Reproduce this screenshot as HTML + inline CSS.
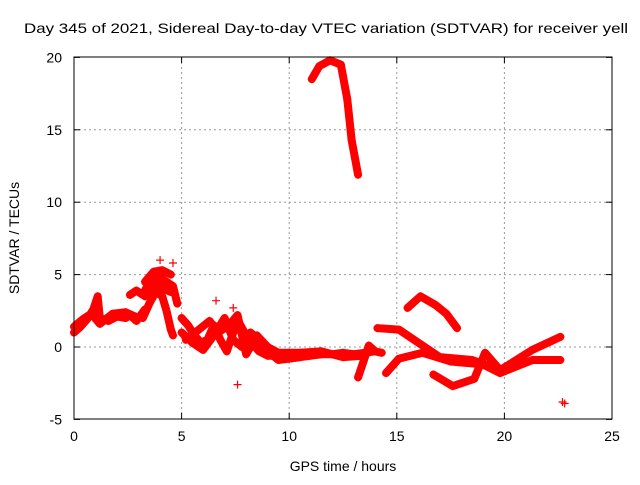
<!DOCTYPE html>
<html><head><meta charset="utf-8"><style>
body{margin:0;background:#fff}
svg{font-family:"Liberation Sans",sans-serif;font-size:14px}
</style></head><body>
<svg id="c" width="640" height="480" xmlns="http://www.w3.org/2000/svg">
<rect width="640" height="480" fill="#fff"/>
<text x="24" y="33" textLength="604" lengthAdjust="spacingAndGlyphs">Day 345 of 2021, Sidereal Day-to-day VTEC variation (SDTVAR) for receiver yell</text>
<text x="343" y="471" text-anchor="middle">GPS time / hours</text>
<text transform="translate(19,238) rotate(-90)" text-anchor="middle">SDTVAR / TECUs</text>
<g id="grid"></g><g id="ticks"></g><g id="marks"></g>
<rect x="74" y="57" width="538" height="362" fill="none" stroke="#000" stroke-width="1"/>
</svg>
<script>
const xTicks=[0,5,10,15,20,25];
const yTicks=[-5,0,5,10,15,20];
const track1=[[0,1.0],[0.3,1.4],[0.6,1.9],[0.9,2.6],[1.1,3.5],[1.2,2.0],[1.6,1.8],[2.0,2.1],[2.4,2.0],[2.6,2.2],[2.9,1.8],[3.1,2.2]];
const track1b=[[0,1.4],[0.4,1.9],[0.8,2.3],[1.2,1.6],[1.8,2.3],[2.4,2.4],[3.0,2.0],[3.3,2.6]];
const track2=[[2.6,3.6],[2.9,3.9],[3.2,3.6],[3.4,4.2],[3.7,4.6],[4.0,4.8],[4.3,4.5],[4.6,4.2],[4.8,3.0]];
const track2b=[[3.3,3.5],[3.6,4.0],[3.9,4.3],[4.2,4.0],[4.5,3.8]];
const track2c=[[3.3,4.5],[3.7,5.2],[4.1,5.3],[4.5,5.0]];
const track3=[[3.2,2.0],[3.5,3.0],[3.8,3.8],[4.1,3.5],[4.3,2.5],[4.5,1.2],[4.6,0.8]];
const track4=[[5.0,2.0],[5.3,1.5],[5.6,0.8],[5.9,0.3],[6.2,0.5],[6.5,1.5],[6.8,0.5],[7.1,-0.3],[7.4,1.0],[7.7,1.6],[8.0,0.8],[8.3,0.2],[8.6,-0.3],[9.0,-0.6],[9.5,-0.6],[10.0,-0.8],[10.5,-0.7],[11.0,-0.6],[11.5,-0.5],[12,-0.5],[12.5,-0.4],[13,-0.5],[13.5,-0.4],[14.0,-0.3],[14.3,-0.4]];
const track5=[[5.0,1.0],[5.5,0.3],[6.0,-0.2],[6.5,0.8],[7.0,2.0],[7.4,0.5],[7.8,0.0],[8.2,1.0],[8.6,0.5],[9.0,-0.3],[9.5,-0.9],[10.5,-0.7]];
const track5b=[[5.2,0.5],[5.8,1.2],[6.3,1.8],[6.7,1.0],[7.2,1.5],[7.6,2.2],[8.0,-0.5],[8.5,0.8],[9.0,0.0],[9.5,-0.4],[10.5,-0.4],[11.5,-0.3],[12.5,-0.7],[13.5,-0.6]];
const track6=[[14.1,1.3],[15.1,1.2],[16.0,0.3],[17.0,-0.7],[18.5,-0.9],[19.8,-1.6],[21.3,-0.2],[22.6,0.7]];
const track7=[[14.5,-1.8],[15.1,-0.8],[16.2,-0.4],[17.5,-1.0],[19.0,-1.2],[19.8,-1.8],[21.3,-0.9],[22.6,-0.9]];
const track8=[[13.2,-2.1],[13.7,0.1],[14.0,-0.3]];
const track9=[[16.7,-1.9],[17.6,-2.7],[18.6,-2.2],[19.1,-0.4],[19.8,-1.6]];
const track10=[[15.5,2.7],[16.1,3.5],[16.8,2.9],[17.3,2.3],[17.8,1.3]];
const track11=[[11.05,18.5],[11.4,19.4],[11.9,19.8],[12.4,19.5],[12.7,17.1],[12.9,14.3],[13.2,11.9]];
const singles=[[7.6,-2.6],[22.7,-3.8],[22.8,-3.9],[4.6,5.8],[4.0,6.0],[7.4,2.7],[6.6,3.2]];
const tracks=[track1,track1b,track2,track2b,track2c,track3,track4,track5,track5b,track6,track7,track8,track9,track10,track11];
const X=t=>74+t*538/25, Y=v=>347-v*362/25;
const NS="http://www.w3.org/2000/svg";
function mk(tag,a,p){const e=document.createElementNS(NS,tag);for(const k in a)e.setAttribute(k,a[k]);p.appendChild(e);return e;}
const g=document.getElementById('grid'),tk=document.getElementById('ticks'),m=document.getElementById('marks');
xTicks.forEach(t=>{
 if(t>0&&t<25){const l=mk('line',{x1:X(t),x2:X(t),y1:57,y2:419,stroke:'#999','stroke-dasharray':'2,3'},g);
 
 }
 const s=mk('text',{x:X(t),y:441,'text-anchor':'middle'},tk);s.textContent=t;
 
 
 mk('line',{x1:X(t),x2:X(t),y1:419,y2:413,stroke:'#000'},tk);mk('line',{x1:X(t),x2:X(t),y1:57,y2:63,stroke:'#000'},tk);
});
yTicks.forEach(v=>{
 if(v>-5&&v<20){const l=mk('line',{x1:74,x2:612,y1:Y(v),y2:Y(v),stroke:'#999','stroke-dasharray':'2,3'},g);
 
 }
 const s=mk('text',{x:62,y:Y(v)+5,'text-anchor':'end'},tk);s.textContent=v;
 
 
 mk('line',{x1:74,x2:80,y1:Y(v),y2:Y(v),stroke:'#000'},tk);mk('line',{x1:606,x2:612,y1:Y(v),y2:Y(v),stroke:'#000'},tk);
});
function plus(t,v){const p=mk('path',{d:`M${X(t)-4},${Y(v)}h8M${X(t)},${Y(v)-4}v8`,stroke:'#f00','stroke-width':1.2},m);
 
 }
tracks.forEach(tr=>{
 const pl=mk('polyline',{points:tr.map(p=>X(p[0])+','+Y(p[1])).join(' '),fill:'none',stroke:'#f00','stroke-width':8,'stroke-linejoin':'round','stroke-linecap':'round'},m);
 
 
 tr.forEach(p=>plus(p[0],p[1]));
});
singles.forEach(p=>plus(p[0],p[1]));
</script>
</body></html>
